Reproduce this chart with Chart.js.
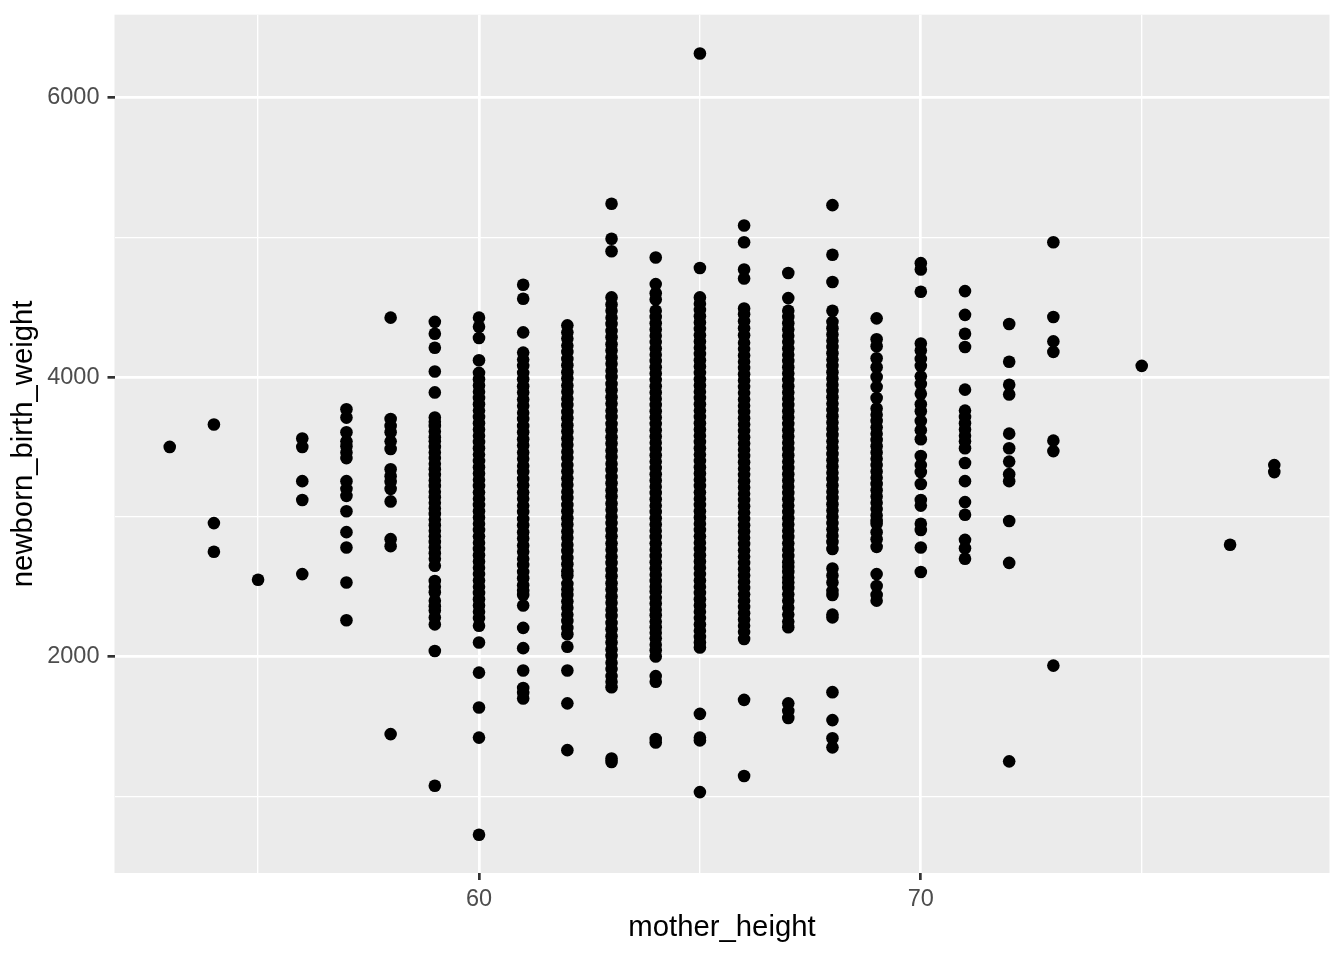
<!DOCTYPE html>
<html>
<head>
<meta charset="utf-8">
<title>newborn_birth_weight vs mother_height</title>
<script src="https://cdn.jsdelivr.net/npm/chart.js@4/dist/chart.umd.min.js"></script>
<style>
  html, body { margin: 0; padding: 0; background: #ffffff; }
  #wrap { width: 1344px; height: 960px; }
</style>
</head>
<body>
<div id="wrap"><canvas id="scatterChart" width="1344" height="960"></canvas></div>
<script>
// mother heights (inches) that appear on the x axis
const heights = [53, 54, 55, 56, 57, 58, 59, 60, 61, 62, 63, 64, 65, 66, 67, 68, 69, 70, 71, 72, 73, 75, 77, 78];

// newborn birth weights (g)
const w53 = [3500];
const w54 = [3660, 2955, 2750];
const w55 = [2550];
const w56 = [3560, 3500, 3255, 3120, 2590];
const w57 = [3770, 3710, 3605, 3540, 3505, 3460, 3420, 3255, 3200, 3150, 3040, 2890, 2780, 2530, 2260];
const w58 = [4425, 3700, 3650, 3605, 3540, 3485, 3340, 3290, 3250, 3200, 3110, 2840, 2790, 1445];
const w59 = [4395, 4310, 4210, 4040, 3890, 3710, 3680, 3650, 3610, 3570, 3540, 3500, 3460, 3420, 3380,
  3340, 3300, 3260, 3220, 3180, 3140, 3100, 3060, 3020, 2980, 2940, 2900, 2860, 2820, 2780, 2740,
  2700, 2650, 2540, 2500, 2460, 2400, 2360, 2330, 2280, 2230, 2040, 1075];
const w60 = [4425, 4360, 4280, 4120, 4030, 3985, 3940, 3895, 3850, 3805, 3760, 3715, 3670, 3625, 3580,
  3535, 3490, 3445, 3400, 3355, 3310, 3265, 3220, 3175, 3130, 3085, 3040, 2995, 2950, 2905, 2860,
  2815, 2770, 2725, 2680, 2635, 2590, 2545, 2500, 2455, 2410, 2365, 2320, 2275, 2220, 2100, 1885,
  1635, 1420, 725];
const w61 = [4660, 4560, 4320, 4175, 4125, 4080, 4030, 3985, 3935, 3890, 3840, 3795, 3745, 3700, 3650,
  3605, 3555, 3510, 3460, 3415, 3365, 3320, 3270, 3225, 3175, 3130, 3080, 3035, 2985, 2940, 2890,
  2845, 2795, 2750, 2700, 2655, 2605, 2560, 2510, 2470, 2440, 2365, 2205, 2060, 1900, 1775, 1740, 1700];
const w62 = [4370, 4320, 4275, 4225, 4180, 4130, 4085, 4035, 3990, 3940, 3895, 3845, 3800, 3750, 3705,
  3655, 3610, 3560, 3515, 3465, 3420, 3370, 3325, 3275, 3230, 3180, 3135, 3085, 3040, 2990, 2945,
  2895, 2850, 2800, 2755, 2705, 2660, 2610, 2580, 2520, 2480, 2440, 2395, 2350, 2300, 2255, 2205,
  2160, 2070, 1900, 1665, 1330];
const w63 = [5240, 4990, 4900, 4570, 4520, 4475, 4425, 4380, 4330, 4285, 4235, 4190, 4140, 4095, 4045,
  4000, 3950, 3905, 3855, 3810, 3760, 3715, 3665, 3620, 3570, 3525, 3475, 3430, 3380, 3335, 3285,
  3240, 3190, 3145, 3095, 3050, 3000, 2955, 2905, 2860, 2810, 2765, 2715, 2670, 2620, 2575, 2525,
  2480, 2430, 2385, 2335, 2290, 2240, 2195, 2145, 2100, 2050, 2005, 1955, 1910, 1860, 1820, 1780,
  1270, 1245];
const w64 = [4855, 4665, 4600, 4555, 4475, 4430, 4385, 4340, 4295, 4250, 4205, 4160, 4115, 4070, 4025,
  3980, 3935, 3890, 3845, 3800, 3755, 3710, 3665, 3620, 3575, 3530, 3485, 3440, 3395, 3350, 3305,
  3260, 3215, 3170, 3125, 3080, 3035, 2990, 2945, 2900, 2855, 2810, 2765, 2720, 2675, 2630, 2585,
  2540, 2500, 2465, 2420, 2380, 2335, 2295, 2250, 2210, 2170, 2130, 2085, 2045, 2000, 1860, 1820,
  1410, 1385];
const w65 = [6315, 4780, 4570, 4525, 4480, 4435, 4390, 4345, 4300, 4255, 4210, 4165, 4120, 4075, 4030,
  3985, 3940, 3895, 3850, 3805, 3760, 3715, 3670, 3625, 3580, 3535, 3490, 3445, 3400, 3355, 3310,
  3265, 3220, 3175, 3130, 3085, 3040, 2995, 2950, 2905, 2860, 2815, 2770, 2725, 2680, 2635, 2590,
  2545, 2500, 2455, 2410, 2365, 2320, 2275, 2230, 2185, 2140, 2100, 2065, 1590, 1420, 1400, 1030];
const w66 = [5085, 4965, 4770, 4705, 4490, 4450, 4400, 4350, 4300, 4245, 4200, 4155, 4110, 4065, 4020,
  3975, 3930, 3885, 3840, 3795, 3750, 3705, 3660, 3615, 3570, 3525, 3480, 3435, 3390, 3345, 3300,
  3255, 3210, 3165, 3120, 3075, 3030, 2985, 2940, 2895, 2850, 2805, 2760, 2715, 2670, 2625, 2580,
  2535, 2490, 2445, 2400, 2355, 2310, 2265, 2220, 2175, 2125, 1690, 1145];
const w67 = [4745, 4565, 4475, 4430, 4385, 4340, 4295, 4250, 4205, 4160, 4115, 4070, 4025, 3980, 3935,
  3890, 3845, 3800, 3755, 3710, 3665, 3620, 3575, 3530, 3485, 3440, 3395, 3350, 3305, 3260, 3215,
  3170, 3125, 3080, 3035, 2990, 2945, 2900, 2855, 2810, 2765, 2720, 2675, 2640, 2605, 2565, 2530,
  2490, 2445, 2400, 2350, 2300, 2250, 2210, 1665, 1610, 1560];
const w68 = [5230, 4875, 4680, 4475, 4395, 4350, 4305, 4260, 4215, 4170, 4125, 4080, 4035, 3990, 3945,
  3900, 3855, 3810, 3765, 3720, 3675, 3630, 3585, 3540, 3495, 3450, 3405, 3360, 3315, 3270, 3225,
  3180, 3135, 3090, 3045, 3000, 2955, 2910, 2865, 2820, 2770, 2630, 2580, 2530, 2470, 2440, 2300,
  2280, 1745, 1545, 1415, 1350];
const w69 = [4420, 4270, 4220, 4135, 4070, 4000, 3930, 3850, 3775, 3730, 3685, 3640, 3595, 3550, 3505,
  3460, 3415, 3370, 3325, 3280, 3235, 3190, 3145, 3100, 3055, 3010, 2970, 2950, 2890, 2840, 2785,
  2590, 2505, 2440, 2400];
const w70 = [4815, 4770, 4610, 4240, 4190, 4130, 4080, 4005, 3950, 3880, 3805, 3755, 3685, 3620, 3555,
  3435, 3370, 3320, 3235, 3120, 3080, 2950, 2905, 2780, 2605];
const w71 = [4615, 4445, 4310, 4215, 3910, 3760, 3715, 3670, 3625, 3580, 3540, 3490, 3385, 3255, 3105,
  3015, 2835, 2775, 2700];
const w72 = [4380, 4110, 3945, 3875, 3595, 3490, 3395, 3305, 3255, 2970, 2670, 1250];
const w73 = [4965, 4430, 4255, 4180, 3545, 3470, 1935];
const w75 = [4080];
const w77 = [2800];
const w78 = [3370, 3320];

const weightsByHeight = [w53, w54, w55, w56, w57, w58, w59, w60, w61, w62, w63, w64, w65, w66,
  w67, w68, w69, w70, w71, w72, w73, w75, w77, w78];

// axis breaks (major ones get labels, minor ones only a thin grid line)
const xBreaks = [55, 60, 65, 70, 75];
const xLabels = [60, 70];
const yBreaks = [1000, 2000, 3000, 4000, 5000, 6000];
const yLabels = [2000, 4000, 6000];

(function () {
  function initChart() {
    if (typeof Chart === 'undefined') return;

    const points = [];
    heights.forEach(function (h, i) {
      weightsByHeight[i].forEach(function (w) {
        points.push({ x: h, y: w });
      });
    });

    const fontFamily = '"Liberation Sans", Arial, Helvetica, sans-serif';

    // grey panel behind the grid
    const panelBackground = {
      id: 'panelBackground',
      beforeDraw: function (chart) {
        const c = chart.ctx;
        const a = chart.chartArea;
        c.save();
        c.fillStyle = '#ffffff';
        c.fillRect(0, 0, chart.width, chart.height);
        c.fillStyle = '#EBEBEB';
        c.fillRect(a.left, a.top, a.right - a.left, a.bottom - a.top);
        c.restore();
      }
    };

    function gridWidth(major) {
      return function (ctx) {
        return ctx.tick && major.indexOf(ctx.tick.value) >= 0 ? 2.7 : 1.35;
      };
    }
    function tickColour(major) {
      return function (ctx) {
        return ctx.tick && major.indexOf(ctx.tick.value) >= 0 ? '#333333' : 'rgba(0,0,0,0)';
      };
    }

    new Chart(document.getElementById('scatterChart'), {
      type: 'scatter',
      data: {
        datasets: [{
          label: 'births',
          data: points,
          pointRadius: 6.3,
          pointHoverRadius: 6.3,
          pointBorderWidth: 0,
          pointBackgroundColor: '#000000',
          pointBorderColor: '#000000'
        }]
      },
      options: {
        responsive: false,
        animation: false,
        devicePixelRatio: 1,
        layout: { padding: { top: 14.7, right: 14.5, bottom: 0, left: 0 } },
        plugins: {
          legend: { display: false },
          tooltip: { enabled: false },
          title: { display: false }
        },
        scales: {
          x: {
            type: 'linear',
            min: 51.75,
            max: 79.25,
            afterBuildTicks: function (axis) {
              axis.ticks = xBreaks.map(function (v) { return { value: v }; });
            },
            afterFit: function (axis) {
              axis.height = 87;
              axis.paddingLeft = 0;
              axis.paddingRight = 0;
            },
            border: { display: false },
            grid: {
              color: '#ffffff',
              lineWidth: gridWidth(xLabels),
              drawTicks: true,
              tickLength: 7,
              tickWidth: 2.7,
              tickColor: tickColour(xLabels)
            },
            ticks: {
              autoSkip: false,
              maxRotation: 0,
              padding: 5,
              color: '#4D4D4D',
              font: { family: fontFamily, size: 23.5 },
              callback: function (v) { return xLabels.indexOf(v) >= 0 ? String(v) : ''; }
            },
            title: {
              display: true,
              text: 'mother_height',
              color: '#000000',
              font: { family: fontFamily, size: 29.3 },
              padding: { top: 0, bottom: 15 }
            }
          },
          y: {
            type: 'linear',
            min: 451,
            max: 6593,
            afterBuildTicks: function (axis) {
              axis.ticks = yBreaks.map(function (v) { return { value: v }; });
            },
            afterFit: function (axis) {
              axis.width = 114.5;
              axis.paddingTop = 0;
              axis.paddingBottom = 0;
            },
            border: { display: false },
            grid: {
              color: '#ffffff',
              lineWidth: gridWidth(yLabels),
              drawTicks: true,
              tickLength: 7,
              tickWidth: 2.7,
              tickColor: tickColour(yLabels)
            },
            ticks: {
              autoSkip: false,
              padding: 8,
              color: '#4D4D4D',
              font: { family: fontFamily, size: 23.5 },
              callback: function (v) { return yLabels.indexOf(v) >= 0 ? String(v) : ''; }
            },
            title: {
              display: true,
              text: 'newborn_birth_weight',
              color: '#000000',
              font: { family: fontFamily, size: 29.3 },
              padding: { top: 6, bottom: 0 }
            }
          }
        }
      },
      plugins: [panelBackground]
    });
  }

  if (document.readyState === 'loading') {
    document.addEventListener('DOMContentLoaded', initChart);
  } else {
    initChart();
  }
})();
</script>
</body>
</html>
